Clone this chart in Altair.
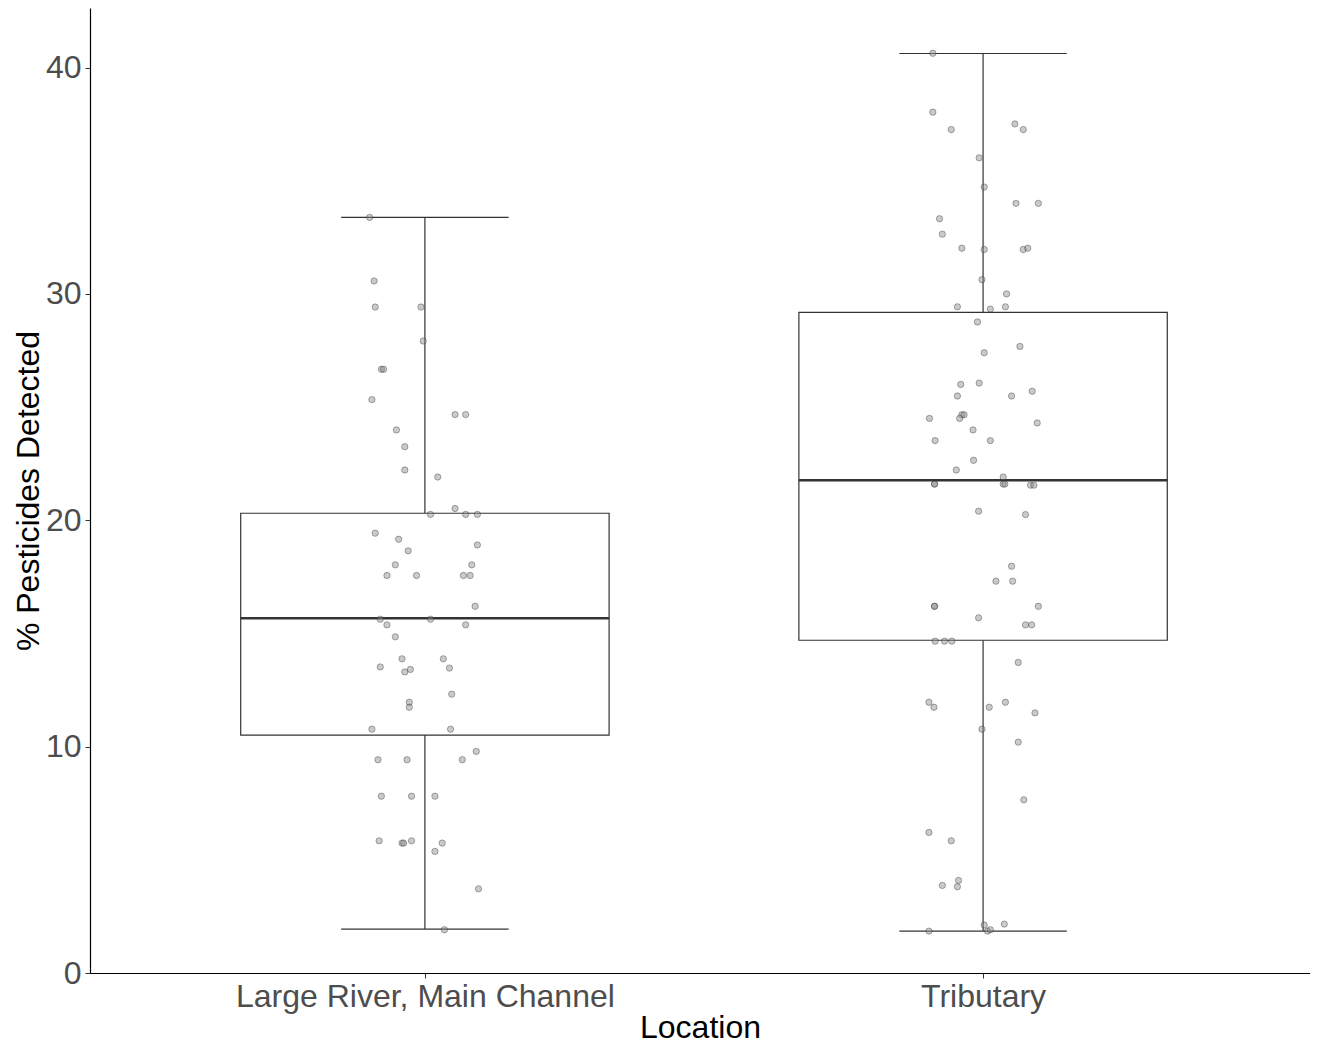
import altair as alt
import pandas as pd

categories = ["Large River, Main Channel", "Tributary"]
cat_pos = [0, 1]

# box statistics
q1 = [10.51, 14.70]
median = [15.67, 21.77]
q3 = [20.31, 29.18]
lower = [1.94, 1.85]
upper = [33.38, 40.62]

# jittered observations: value and horizontal jitter (category units)
lr_values = [33.38, 30.57, 29.42, 29.42, 27.92, 26.67, 26.67, 25.33, 24.67, 24.67,
             23.99, 23.25, 22.22, 21.91, 20.52, 20.26, 20.26, 20.26, 19.43, 19.16,
             18.91, 18.65, 18.03, 18.03, 17.56, 17.56, 17.56, 17.56, 16.20, 15.63,
             15.63, 15.38, 15.38, 14.85, 13.88, 13.88, 13.52, 13.30, 13.41, 13.47,
             12.32, 11.96, 11.74, 10.77, 10.77, 9.79, 9.42, 9.42, 9.42, 7.81,
             7.81, 7.81, 5.84, 5.74, 5.74, 5.84, 5.74, 5.37, 3.72, 1.91]
lr_jitter = [-0.099, -0.091, -0.089, -0.007, -0.003, -0.078, -0.074, -0.095, 0.054, 0.073,
             -0.051, -0.036, -0.036, 0.023, 0.054, 0.010, 0.073, 0.094, -0.089, -0.047,
             0.094, -0.030, -0.053, 0.084, -0.068, -0.015, 0.069, 0.081, 0.090, -0.080,
             0.010, -0.068, 0.073, -0.053, -0.041, 0.033, -0.080, -0.036, -0.026, 0.044,
             0.048, -0.028, -0.028, -0.095, 0.046, 0.092, -0.084, -0.032, 0.067, -0.078,
             -0.024, 0.018, -0.082, -0.041, -0.038, -0.024, 0.031, 0.018, 0.096, 0.035]

trib_values = [40.63, 38.03, 37.26, 37.51, 37.26, 36.01, 34.72, 34.00, 34.00, 33.32,
               32.64, 32.02, 31.96, 31.96, 32.02, 30.63, 30.00, 29.43, 29.33, 29.43,
               28.76, 27.68, 27.40, 26.00, 26.06, 25.70, 25.49, 25.49, 24.50, 24.66,
               24.66, 24.50, 24.30, 23.99, 23.52, 23.52, 22.65, 22.22, 21.91, 21.60,
               21.60, 21.60, 21.60, 21.55, 21.55, 20.40, 20.25, 17.97, 17.31, 17.31,
               16.20, 16.20, 16.20, 15.69, 15.38, 15.38, 14.66, 14.66, 14.66, 13.72,
               11.96, 11.74, 11.74, 11.96, 11.49, 10.77, 10.20, 7.65, 6.21, 5.84,
               4.09, 3.87, 3.81, 2.12, 2.16, 1.85, 1.85, 1.91]
trib_jitter = [-0.090, -0.090, -0.057, 0.057, 0.072, -0.007, 0.002, 0.059, 0.099, -0.078,
               -0.073, -0.038, 0.002, 0.072, 0.080, -0.002, 0.042, -0.046, 0.013, 0.040,
               -0.010, 0.066, 0.002, -0.040, -0.007, 0.088, -0.046, 0.051, -0.096, -0.038,
               -0.034, -0.042, 0.097, -0.018, -0.086, 0.013, -0.017, -0.048, 0.036, -0.087,
               -0.087, 0.036, 0.039, 0.085, 0.091, -0.008, 0.076, 0.051, 0.023, 0.053,
               -0.087, -0.087, 0.099, -0.008, 0.076, 0.087, -0.086, -0.069, -0.056, 0.063,
               -0.097, -0.088, 0.011, 0.040, 0.093, -0.002, 0.063, 0.073, -0.097, -0.057,
               -0.044, -0.073, -0.046, 0.002, 0.038, -0.097, 0.008, 0.013]

box_half = 0.33
cap_half = 0.15

stats = pd.DataFrame({
    "Location": categories, "pos": cat_pos, "q1": q1, "median": median,
    "q3": q3, "lower": lower, "upper": upper,
})

pts = pd.DataFrame({
    "Location": [categories[0]] * len(lr_values) + [categories[1]] * len(trib_values),
    "pos": [cat_pos[0]] * len(lr_values) + [cat_pos[1]] * len(trib_values),
    "value": lr_values + trib_values,
    "jit": lr_jitter + trib_jitter,
})

xscale = alt.Scale(domain=[-0.6, 1.5857], nice=False, zero=False)
yscale = alt.Scale(domain=[0, 42.63], nice=False, zero=True)

label_expr = "datum.value == 0 ? '" + categories[0] + "' : (datum.value == 1 ? '" + categories[1] + "' : '')"

xaxis = alt.Axis(values=cat_pos, labelExpr=label_expr, title="Location", grid=False,
                 labelFontSize=32, titleFontSize=32, labelColor="#4d4d4d", titleColor="black",
                 labelFont="Liberation Sans", titleFont="Liberation Sans", titleFontWeight="normal",
                 tickColor="#333", tickSize=5, domainColor="black", domainWidth=1.2,
                 labelPadding=3, titlePadding=0, labelLimit=0)
yaxis = alt.Axis(values=[0, 10, 20, 30, 40], title="% Pesticides Detected", grid=False,
                 labelFontSize=32, titleFontSize=32, labelColor="#4d4d4d", titleColor="black",
                 labelFont="Liberation Sans", titleFont="Liberation Sans", titleFontWeight="normal",
                 tickColor="#333", tickSize=5, domainColor="black", domainWidth=1.2,
                 labelPadding=4, titlePadding=0)

base = alt.Chart(stats).transform_calculate(
    blo="datum.pos - %f" % box_half, bhi="datum.pos + %f" % box_half,
    clo="datum.pos - %f" % cap_half, chi="datum.pos + %f" % cap_half,
)

whisk_lo = base.mark_rule(color="#333", strokeWidth=1.2).encode(
    x=alt.X("pos:Q", scale=xscale, axis=xaxis),
    y=alt.Y("lower:Q", scale=yscale, axis=yaxis), y2="q1:Q")
whisk_hi = base.mark_rule(color="#333", strokeWidth=1.2).encode(
    x="pos:Q", y="q3:Q", y2="upper:Q")
cap_lo = base.mark_rule(color="#333", strokeWidth=1.2).encode(
    x="clo:Q", x2="chi:Q", y="lower:Q")
cap_hi = base.mark_rule(color="#333", strokeWidth=1.2).encode(
    x="clo:Q", x2="chi:Q", y="upper:Q")
box = base.mark_rect(fill="white", stroke="#333", strokeWidth=1.2).encode(
    x="blo:Q", x2="bhi:Q", y="q1:Q", y2="q3:Q")
med = base.mark_rule(color="#333", strokeWidth=2.6).encode(
    x="blo:Q", x2="bhi:Q", y="median:Q")

points = alt.Chart(pts).transform_calculate(
    xj="datum.pos + datum.jit"
).mark_point(filled=True, size=40, fill="#8a8a8a", fillOpacity=0.45,
             stroke="#222", strokeOpacity=0.45, strokeWidth=0.8).encode(
    x=alt.X("xj:Q", scale=xscale), y=alt.Y("value:Q", scale=yscale))

chart = alt.layer(whisk_lo, whisk_hi, cap_lo, cap_hi, box, med, points).properties(
    width=1220, height=965,
    background="white",
    autosize=alt.AutoSizeParams(type="none"),
    padding={"left": 82, "top": 0, "right": 0, "bottom": 69},
).configure_view(
    stroke="transparent", strokeWidth=0
)

chart.save("out.html", embed_options={"renderer": "svg", "actions": False})
